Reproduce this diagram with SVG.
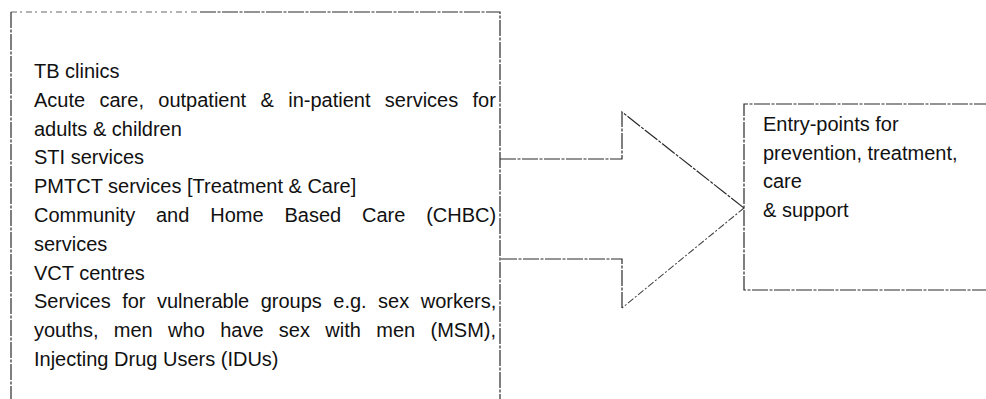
<svg xmlns="http://www.w3.org/2000/svg" width="986" height="399" viewBox="0 0 986 399">
  <style>
    .ln { fill: none; stroke: #2a2a2a; stroke-width: 1.2; stroke-dasharray: 16 1.5 3 1.5; }
    .dot { fill: none; stroke: #444; stroke-width: 1.1; stroke-dasharray: 7 2 2 2; }
    .faint { fill: none; stroke: #666; stroke-width: 1; stroke-dasharray: 6 3 2 4; }
    .t { font-family: "Liberation Sans", Arial, sans-serif; font-size: 20px; fill: #111; }
  </style>
  <rect width="986" height="399" fill="#fff"/>
  <g id="services-box">
    <path class="faint" d="M11 12 H200"/>
    <path class="ln" d="M200 12 H500 V405"/>
    <path class="ln" d="M11 12 V405"/>
    <text class="t" x="34" y="78">TB clinics</text>
    <text class="t" x="34" y="106.8" word-spacing="8.8">Acute care, outpatient &amp; in-patient services for</text>
    <text class="t" x="34" y="135.6">adults &amp; children</text>
    <text class="t" x="34" y="164.4">STI services</text>
    <text class="t" x="34" y="193.2">PMTCT services [Treatment &amp; Care]</text>
    <text class="t" x="34" y="222" word-spacing="15.3">Community and Home Based Care (CHBC)</text>
    <text class="t" x="34" y="250.8">services</text>
    <text class="t" x="34" y="279.6">VCT centres</text>
    <text class="t" x="34" y="308.4" word-spacing="5.9">Services for vulnerable groups e.g. sex workers,</text>
    <text class="t" x="34" y="337.2" word-spacing="9.8">youths, men who have sex with men (MSM),</text>
    <text class="t" x="34" y="366">Injecting Drug Users (IDUs)</text>
  </g>
  <g id="connectors">
    <path class="ln" d="M500 159 H622 V112 L744 208"/>
    <path class="dot" d="M744 208 L622 308"/>
    <path class="ln" d="M622 308 V259 H500"/>
  </g>
  <g id="entry-points-box">
    <path class="ln" d="M990 104 H744 V290 H990"/>
    <text class="t" x="763" y="131">Entry-points for</text>
    <text class="t" x="763" y="159.5">prevention, treatment,</text>
    <text class="t" x="763" y="188">care</text>
    <text class="t" x="763" y="216.5">&amp; support</text>
  </g>
</svg>
